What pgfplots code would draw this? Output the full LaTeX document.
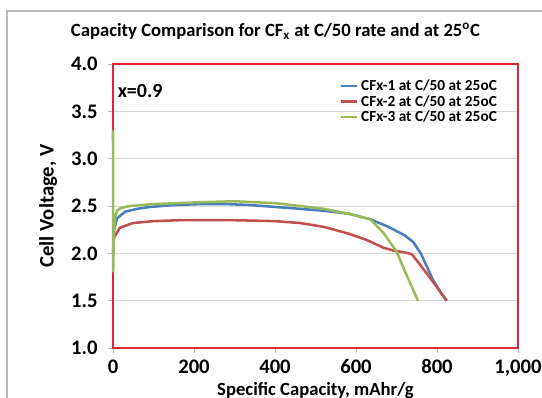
\documentclass[border=0pt]{standalone}
\usepackage{pgfplots}
\pgfplotsset{compat=1.18}
\usepackage{fontspec}
\setmainfont{Carlito}
\definecolor{cblue}{RGB}{74,126,187}
\definecolor{cred}{RGB}{192,80,77}
\definecolor{cgreen}{RGB}{155,187,89}
\definecolor{frame}{RGB}{222,38,52}
\definecolor{gridc}{RGB}{217,217,217}
\definecolor{outer}{RGB}{185,185,185}
\begin{document}
\begin{tikzpicture}
\path[use as bounding box, clip] (0,0) rectangle (406.5pt,298.5pt);
\draw[outer, line width=0.8pt] (5.25pt,-2pt) -- (5.25pt,290.25pt) -- (410pt,290.25pt);
\begin{axis}[
  at={(84.75pt,37.5pt)}, anchor=south west,
  scale only axis, width=303.75pt, height=213pt,
  xmin=0, xmax=1000, ymin=1, ymax=4,
  xtick={0,200,...,1000}, ytick={1,1.5,...,4},
  clip=false,
  axis line style={frame, line width=1.1pt},
  tick align=outside, xtick pos=left, ytick pos=left,
  major tick length=4pt,
  tick style={outer, line width=0.6pt},
  ymajorgrids, grid style={gridc, line width=0.7pt},
  /pgf/number format/assume math mode=true,
  x tick label style={font=\bfseries\fontsize{15.5}{17}\selectfont, /pgf/number format/1000 sep={,}, yshift=-3.5pt, inner sep=1pt},
  y tick label style={font=\bfseries\fontsize{15.5}{17}\selectfont, /pgf/number format/fixed, /pgf/number format/fixed zerofill, /pgf/number format/precision=1, xshift=-4pt},
  xlabel={Specific Capacity, mAhr/g},
  ylabel={Cell Voltage, V},
  xlabel style={font=\bfseries\fontsize{14}{16}\selectfont, at={(rel axis cs:0.5,-0.148)}, anchor=center, inner sep=1pt},
  ylabel style={font=\bfseries\fontsize{15.5}{17}\selectfont, at={(rel axis cs:-0.16,0.5)}, anchor=center, rotate=0},
  legend style={font=\bfseries\fontsize{11.5}{12}\selectfont, draw=none, fill=none, at={(rel axis cs:0.955,0.955)}, anchor=north east, inner sep=0pt, row sep=-1.8pt},
  legend cell align=left,
  legend image code/.code={\draw[#1, line width=1.7pt] (0pt,0.3pt) -- (12.5pt,0.3pt);},
  every axis plot/.append style={line width=1.9pt},
]
\addplot[cblue] coordinates {(0,2.0) (3,2.25) (10,2.37) (30,2.44) (60,2.47) (91,2.49) (150,2.51) (215,2.52) (280,2.52) (338,2.51) (400,2.49) (462,2.47) (520,2.45) (580,2.42) (635,2.36) (680,2.28) (720,2.19) (741,2.12) (760,2.0) (790,1.72) (810,1.58) (824,1.5)};
\addlegendentry{CFx-1 at C/50 at 25oC}
\addplot[cred] coordinates {(0,2.1) (3,2.17) (17,2.27) (49,2.32) (100,2.34) (165,2.35) (300,2.35) (400,2.34) (462,2.32) (520,2.28) (580,2.21) (627,2.14) (667,2.06) (692,2.03) (720,2.01) (738,1.99) (760,1.87) (790,1.70) (824,1.5)};
\addlegendentry{CFx-2 at C/50 at 25oC}
\addplot[cgreen] coordinates {(0,3.3) (0.5,1.8) (2,2.2) (5,2.38) (10,2.45) (20,2.48) (42,2.5) (100,2.52) (215,2.54) (300,2.55) (400,2.53) (462,2.50) (520,2.47) (580,2.42) (635,2.36) (667,2.22) (700,2.02) (725,1.77) (753,1.5)};
\addlegendentry{CFx-3 at C/50 at 25oC}
\node[font=\bfseries\fontsize{15}{17}\selectfont] at (rel axis cs:0.067,0.905) {x=0.9};
\end{axis}
\node[font=\bfseries\fontsize{14}{16}\selectfont] at (206.6pt,275pt) {Capacity Comparison for CF\textsubscript{x} at C/50 rate and at 25\textsuperscript{o}C};
\end{tikzpicture}
\end{document}
